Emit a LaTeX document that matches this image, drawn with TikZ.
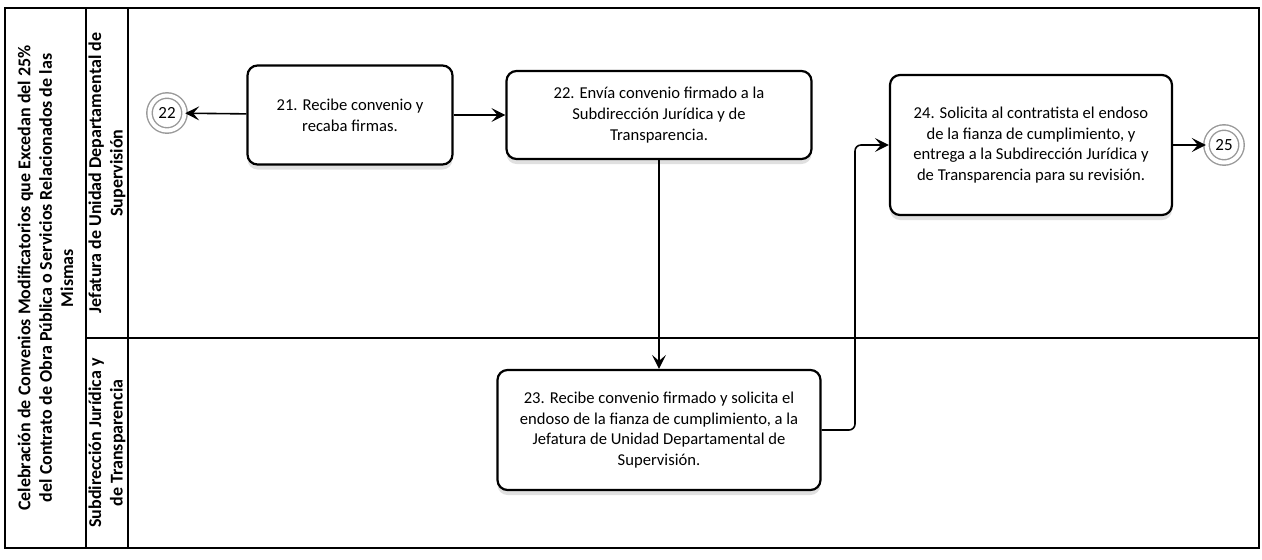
\documentclass[tikz,border=0pt]{standalone}
\usepackage{fontspec}
\setmainfont{Carlito}
\usetikzlibrary{arrows.meta, positioning, shadows}
\tikzset{
    myarrow/.style={-{Stealth[length=7pt,width=7pt,inset=3pt]}, line width=0.8pt},
    box/.style={draw, rectangle, rounded corners=5pt, line width=1.1pt, fill=white, align=center,
        font=\fontsize{8.3}{10.3}\selectfont,
        drop shadow={shadow xshift=0pt, shadow yshift=-2.5pt, opacity=0.2, fill=black!60}},
    endpoint/.style={circle, draw=black!40, line width=0.7pt, double=white, double distance=2pt,
        fill=white, minimum size=17.5pt, inner sep=0pt, font=\fontsize{8.5}{10}\selectfont},
    lanetitle/.style={rotate=90, align=center, font=\fontsize{9}{10.7}\selectfont\bfseries},
    frame/.style={line width=1pt}
}

\begin{document}
\begin{tikzpicture}[x=0.5pt, y=-0.5pt]
    \useasboundingbox (0,0) rectangle (1262,559);

    % pool and lanes
    \draw [frame] (5,8) rectangle (1259,548);
    \draw [frame] (86,8) -- (86,548);
    \draw [frame] (128,8) -- (128,548);
    \draw [frame] (86,338) -- (1259,338);

    \node (pool) [lanetitle] at (45.5,278) {Celebración de Convenios Modificatorios que Excedan del 25\%\\del Contrato de Obra Pública o Servicios Relacionados de las\\Mismas};
    \node (jud) [lanetitle] at (107,173) {Jefatura de Unidad Departamental de\\Supervisión};
    \node (sjt) [lanetitle] at (107,443) {Subdirección Jurídica y\\de Transparencia};

    % activities
    \node (c22) [endpoint] at (167,113) {22};
    \node (b21) [box, minimum width=102.5pt, minimum height=49.5pt] at (350,115) {21. Recibe convenio y\\recaba firmas.};
    \node (b22) [box, minimum width=152.5pt, minimum height=44pt] at (659,115) {22. Envía convenio firmado a la\\Subdirección Jurídica y de\\Transparencia.};
    \node (b23) [box, minimum width=161.5pt, minimum height=60pt] at (659,430) {23. Recibe convenio firmado y solicita el\\endoso de la fianza de cumplimiento, a la\\Jefatura de Unidad Departamental de\\Supervisión.};
    \node (b24) [box, minimum width=141pt, minimum height=70pt] at (1031,145) {24. Solicita al contratista el endoso\\de la fianza de cumplimiento, y\\entrega a la Subdirección Jurídica y\\de Transparencia para su revisión.};
    \node (c25) [endpoint] at (1224,145) {25};

    % flow
    \draw [myarrow] (b21) -- (c22);
    \draw [myarrow] (b21) -- (b22);
    \draw [myarrow] (b22) -- (b23);
    \draw [myarrow, rounded corners=3pt] (b23.east) -- (855,430) |- (b24.west);
    \draw [myarrow] (b24) -- (c25);
\end{tikzpicture}
\end{document}
